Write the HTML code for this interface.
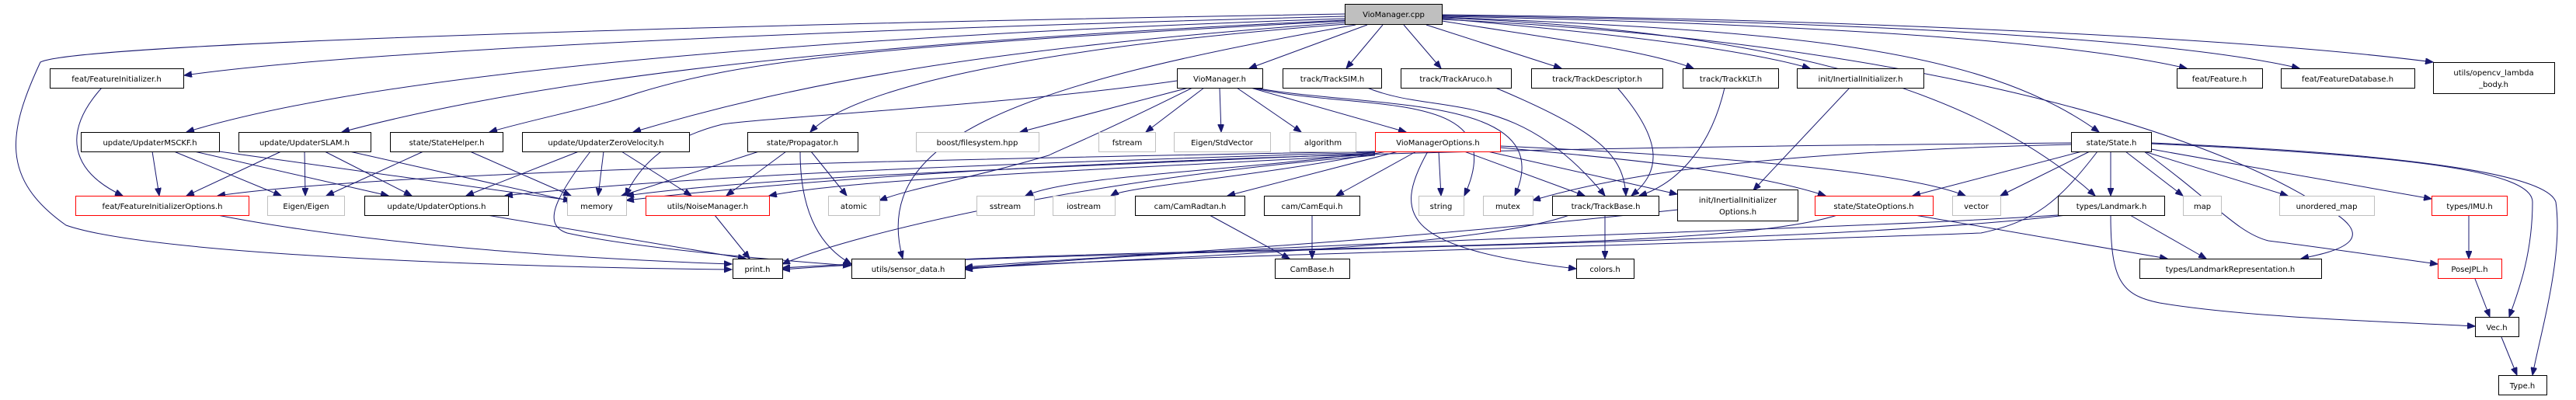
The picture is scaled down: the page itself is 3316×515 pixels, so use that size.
<!DOCTYPE html>
<html><head><meta charset="utf-8"><style>
html,body{margin:0;padding:0;background:#fff}
svg{display:block}
text{font-family:"DejaVu Sans","Liberation Sans",sans-serif;font-size:10px;fill:#000}
.e{fill:none;stroke:#191970;stroke-width:1}
.n{fill:#fff;stroke:#000;stroke-width:1}
.g{fill:#fff;stroke:#bfbfbf;stroke-width:1}
.r{fill:#fff;stroke:#ff0000;stroke-width:1}
</style></head><body>
<svg width="3316" height="515" viewBox="0 0 3316 515" xmlns="http://www.w3.org/2000/svg">
<defs><marker id="a" markerUnits="userSpaceOnUse" markerWidth="11" markerHeight="8" refX="10" refY="4" orient="auto"><path d="M0,0 L10,4 L0,8 Z" fill="#191970" stroke="#191970"/></marker></defs>
<g class="e" marker-end="url(#a)">
<!-- from VioManager.cpp -->
<path d="M1731,21 C1200,35 500,60 237,97"/>
<path d="M1731,18 C1000,30 100,55 52,80 C10,170 0,230 85,290 C200,330 700,345 942,347"/>
<path d="M1731,24 C1100,45 500,90 240,170"/>
<path d="M1731,26 C1100,55 700,100 440,170"/>
<path d="M1731,27 C1100,60 950,80 820,120 C760,140 700,150 630,170"/>
<path d="M1731,29 C1300,60 1050,100 815,170"/>
<path d="M1733,31 C1350,60 1100,110 1043,170"/>
<path d="M1745,32 C1300,110 1120,180 1162,333"/>
<path d="M1760,32 L1608,88"/>
<path d="M1780,32 L1733,88"/>
<path d="M1807,32 L1855,88"/>
<path d="M1836,32 L2010,88"/>
<path d="M1856,27 C2000,50 2120,65 2180,88"/>
<path d="M1856,24 C2100,45 2250,65 2330,88"/>
<path d="M1856,22 C2300,40 2550,60 2702,170"/>
<path d="M1856,23 C2300,40 2550,120 2697,252"/>
<path d="M1856,25 C2400,50 2800,150 2980,260 C3080,310 3000,325 2962,333"/>
<path d="M1856,21 C2300,30 2650,50 2815,88"/>
<path d="M1856,20 C2400,28 2800,50 2960,88"/>
<path d="M1856,19 C2400,25 2900,50 3132,80"/>
<!-- VioManager.h -->
<path d="M1515,104 C1300,135 1000,150 930,160 C850,180 820,220 805,252"/>
<path d="M1530,113 L1313,170"/>
<path d="M1550,113 L1475,170"/>
<path d="M1570,113 L1572,170"/>
<path d="M1592,113 L1675,170"/>
<path d="M1610,113 L1810,170"/>
<path d="M1535,113 C1400,180 1370,190 1350,200 C1250,230 1180,240 1132,258"/>
<path d="M1612,113 C1750,145 1950,110 1885,252"/>
<path d="M1615,113 C1760,140 2010,120 1950,252"/>
<!-- trackers -->
<path d="M1760,113 C1850,150 1950,110 2066,252"/>
<path d="M1925,113 C2060,170 2090,200 2093,252"/>
<path d="M2082,113 C2140,180 2140,220 2100,252"/>
<path d="M2220,113 C2200,200 2150,240 2110,252"/>
<path d="M2381,113 L2257,245"/>
<!-- row 3 -->
<path d="M131,113 C80,170 90,220 158,252"/>
<path d="M196,195 L205,252"/>
<path d="M224,195 L362,252"/>
<path d="M250,195 L500,252"/>
<path d="M282,195 L735,258"/>
<path d="M362,195 L240,252"/>
<path d="M392,195 L393,252"/>
<path d="M418,195 L530,252"/>
<path d="M450,195 L740,260"/>
<path d="M545,195 L420,252"/>
<path d="M605,195 L735,252"/>
<path d="M745,195 L600,252"/>
<path d="M777,195 L770,252"/>
<path d="M800,195 L890,252"/>
<path d="M760,195 C710,260 700,290 730,300 C820,320 1000,335 1095,342"/>
<path d="M977,195 L800,252"/>
<path d="M1012,195 L935,252"/>
<path d="M1044,195 L1090,252"/>
<path d="M1030,195 C1030,280 1060,320 1096,340"/>
<!-- VioManagerOptions.h -->
<path d="M1770,195 C1200,205 500,220 280,252"/>
<path d="M1770,196 C1300,210 900,225 650,252"/>
<path d="M1770,197 C1400,215 1000,225 806,252"/>
<path d="M1770,199 C1400,220 1100,230 990,252"/>
<path d="M1770,200 C1400,230 1100,300 1007,340"/>
<path d="M1775,195 C1600,220 1380,225 1320,252"/>
<path d="M1785,195 C1600,230 1450,240 1430,252"/>
<path d="M1800,195 L1580,252"/>
<path d="M1823,195 L1720,252"/>
<path d="M1852,195 L1855,252"/>
<path d="M1885,195 L2040,252"/>
<path d="M1915,195 L2159,250"/>
<path d="M1931,190 C2100,205 2250,220 2350,252"/>
<path d="M1931,188 C2200,200 2450,220 2530,252"/>
<path d="M1838,195 C1790,280 1810,320 2029,346"/>
<!-- cams, trackbase -->
<path d="M1557,277 L1660,333"/>
<path d="M1689,277 L1689,333"/>
<path d="M2066,277 L2066,333"/>
<path d="M2020,277 C1900,320 1500,330 1242,346"/>
<!-- StateOptions / IIO -->
<path d="M2365,277 C2200,330 1500,310 1007,347"/>
<path d="M2160,270 C1700,320 1400,330 1242,344"/>
<path d="M2465,277 L2790,333"/>
<!-- State.h -->
<path d="M2666,184 C2000,190 1300,200 806,258"/>
<path d="M2666,186 C2300,195 2100,220 1973,258"/>
<path d="M2680,195 L2462,252"/>
<path d="M2690,195 L2575,252"/>
<path d="M2700,195 C2650,260 2620,285 2550,300 C2000,320 1500,330 1242,345"/>
<path d="M2717,195 L2717,252"/>
<path d="M2736,195 L2810,252"/>
<path d="M2760,195 L2945,252"/>
<path d="M2769,192 L3130,256"/>
<path d="M2760,195 C2850,260 2880,300 2920,310 C3000,320 3100,335 3138,340"/>
<path d="M2769,185 C3100,200 3260,220 3260,260 C3260,330 3240,380 3230,408"/>
<path d="M2769,184 C3150,200 3280,230 3290,260 C3300,330 3270,430 3260,483"/>
<!-- Landmark -->
<path d="M2649,277 C2300,300 1600,310 1242,347"/>
<path d="M2660,277 C2300,320 1400,320 1007,345"/>
<path d="M2742,277 L2840,333"/>
<path d="M2717,277 C2717,360 2730,380 2780,390 C2900,410 3100,415 3186,420"/>
<!-- bottom -->
<path d="M3178,277 L3178,333"/>
<path d="M3186,359 L3205,408"/>
<path d="M3220,434 L3240,483"/>
<path d="M920,277 L965,333"/>
<path d="M280,277 C500,320 800,335 942,340"/>
<path d="M627,277 L960,333"/>
</g>
<!-- nodes -->
<g>
<rect class="n" x="1731.5" y="5.5" width="125" height="26" style="fill:#bfbfbf"/><text x="1794" y="22" text-anchor="middle">VioManager.cpp</text>

<rect class="n" x="64.5" y="88.5" width="172" height="25"/><text x="150" y="105" text-anchor="middle">feat/FeatureInitializer.h</text>
<rect class="n" x="1515.5" y="88.5" width="110" height="25"/><text x="1570" y="105" text-anchor="middle">VioManager.h</text>
<rect class="n" x="1651.5" y="88.5" width="127" height="25"/><text x="1715" y="105" text-anchor="middle">track/TrackSIM.h</text>
<rect class="n" x="1803.5" y="88.5" width="142" height="25"/><text x="1874" y="105" text-anchor="middle">track/TrackAruco.h</text>
<rect class="n" x="1971.5" y="88.5" width="169" height="25"/><text x="2056" y="105" text-anchor="middle">track/TrackDescriptor.h</text>
<rect class="n" x="2166.5" y="88.5" width="123" height="25"/><text x="2228" y="105" text-anchor="middle">track/TrackKLT.h</text>
<rect class="n" x="2313.5" y="88.5" width="163" height="25"/><text x="2395" y="105" text-anchor="middle">init/InertialInitializer.h</text>
<rect class="n" x="2802.5" y="88.5" width="110" height="25"/><text x="2857" y="105" text-anchor="middle">feat/Feature.h</text>
<rect class="n" x="2936.5" y="88.5" width="172" height="25"/><text x="3022" y="105" text-anchor="middle">feat/FeatureDatabase.h</text>
<rect class="n" x="3132.5" y="80.5" width="156" height="40"/><text x="3210" y="97" text-anchor="middle">utils/opencv_lambda</text><text x="3210" y="112" text-anchor="middle">_body.h</text>

<rect class="n" x="104.5" y="170.5" width="178" height="25"/><text x="193" y="187" text-anchor="middle">update/UpdaterMSCKF.h</text>
<rect class="n" x="307.5" y="170.5" width="170" height="25"/><text x="392" y="187" text-anchor="middle">update/UpdaterSLAM.h</text>
<rect class="n" x="502.5" y="170.5" width="145" height="25"/><text x="575" y="187" text-anchor="middle">state/StateHelper.h</text>
<rect class="n" x="672.5" y="170.5" width="215" height="25"/><text x="780" y="187" text-anchor="middle">update/UpdaterZeroVelocity.h</text>
<rect class="n" x="962.5" y="170.5" width="142" height="25"/><text x="1033" y="187" text-anchor="middle">state/Propagator.h</text>
<rect class="g" x="1179.5" y="170.5" width="158" height="25"/><text x="1258" y="187" text-anchor="middle">boost/filesystem.hpp</text>
<rect class="g" x="1414.5" y="170.5" width="73" height="25"/><text x="1451" y="187" text-anchor="middle">fstream</text>
<rect class="g" x="1511.5" y="170.5" width="124" height="25"/><text x="1573" y="187" text-anchor="middle">Eigen/StdVector</text>
<rect class="g" x="1660.5" y="170.5" width="85" height="25"/><text x="1703" y="187" text-anchor="middle">algorithm</text>
<rect class="r" x="1770.5" y="170.5" width="161" height="25"/><text x="1851" y="187" text-anchor="middle">VioManagerOptions.h</text>
<rect class="n" x="2666.5" y="170.5" width="103" height="25"/><text x="2718" y="187" text-anchor="middle">state/State.h</text>

<rect class="r" x="97.5" y="252.5" width="223" height="25"/><text x="209" y="269" text-anchor="middle">feat/FeatureInitializerOptions.h</text>
<rect class="g" x="344.5" y="252.5" width="99" height="25"/><text x="394" y="269" text-anchor="middle">Eigen/Eigen</text>
<rect class="n" x="469.5" y="252.5" width="185" height="25"/><text x="562" y="269" text-anchor="middle">update/UpdaterOptions.h</text>
<rect class="g" x="730.5" y="252.5" width="76" height="25"/><text x="768" y="269" text-anchor="middle">memory</text>
<rect class="r" x="831.5" y="252.5" width="159" height="25"/><text x="911" y="269" text-anchor="middle">utils/NoiseManager.h</text>
<rect class="g" x="1066.5" y="252.5" width="66" height="25"/><text x="1099" y="269" text-anchor="middle">atomic</text>
<rect class="g" x="1257.5" y="252.5" width="74" height="25"/><text x="1294" y="269" text-anchor="middle">sstream</text>
<rect class="g" x="1355.5" y="252.5" width="80" height="25"/><text x="1395" y="269" text-anchor="middle">iostream</text>
<rect class="n" x="1461.5" y="252.5" width="141" height="25"/><text x="1532" y="269" text-anchor="middle">cam/CamRadtan.h</text>
<rect class="n" x="1627.5" y="252.5" width="123" height="25"/><text x="1689" y="269" text-anchor="middle">cam/CamEqui.h</text>
<rect class="g" x="1826.5" y="252.5" width="58" height="25"/><text x="1855" y="269" text-anchor="middle">string</text>
<rect class="g" x="1909.5" y="252.5" width="64" height="25"/><text x="1941" y="269" text-anchor="middle">mutex</text>
<rect class="n" x="1998.5" y="252.5" width="137" height="25"/><text x="2067" y="269" text-anchor="middle">track/TrackBase.h</text>
<rect class="n" x="2159.5" y="244.5" width="155" height="40"/><text x="2237" y="261" text-anchor="middle">init/InertialInitializer</text><text x="2237" y="276" text-anchor="middle">Options.h</text>
<rect class="r" x="2336.5" y="252.5" width="152" height="25"/><text x="2412" y="269" text-anchor="middle">state/StateOptions.h</text>
<rect class="g" x="2513.5" y="252.5" width="62" height="25"/><text x="2544" y="269" text-anchor="middle">vector</text>
<rect class="n" x="2649.5" y="252.5" width="137" height="25"/><text x="2718" y="269" text-anchor="middle">types/Landmark.h</text>
<rect class="g" x="2810.5" y="252.5" width="49" height="25"/><text x="2835" y="269" text-anchor="middle">map</text>
<rect class="g" x="2934.5" y="252.5" width="122" height="25"/><text x="2995" y="269" text-anchor="middle">unordered_map</text>
<rect class="r" x="3130.5" y="252.5" width="97" height="25"/><text x="3179" y="269" text-anchor="middle">types/IMU.h</text>

<rect class="n" x="943.5" y="333.5" width="64" height="25"/><text x="975" y="350" text-anchor="middle">print.h</text>
<rect class="n" x="1096.5" y="333.5" width="146" height="25"/><text x="1169" y="350" text-anchor="middle">utils/sensor_data.h</text>
<rect class="n" x="1641.5" y="333.5" width="96" height="25"/><text x="1689" y="350" text-anchor="middle">CamBase.h</text>
<rect class="n" x="2029.5" y="333.5" width="74" height="25"/><text x="2066" y="350" text-anchor="middle">colors.h</text>
<rect class="n" x="2754.5" y="333.5" width="234" height="25"/><text x="2871" y="350" text-anchor="middle">types/LandmarkRepresentation.h</text>
<rect class="r" x="3138.5" y="333.5" width="82" height="25"/><text x="3179" y="350" text-anchor="middle">PoseJPL.h</text>
<rect class="n" x="3186.5" y="408.5" width="56" height="25"/><text x="3214" y="425" text-anchor="middle">Vec.h</text>
<rect class="n" x="3216.5" y="483.5" width="62" height="25"/><text x="3247" y="500" text-anchor="middle">Type.h</text>
</g>
</svg>
</body></html>
